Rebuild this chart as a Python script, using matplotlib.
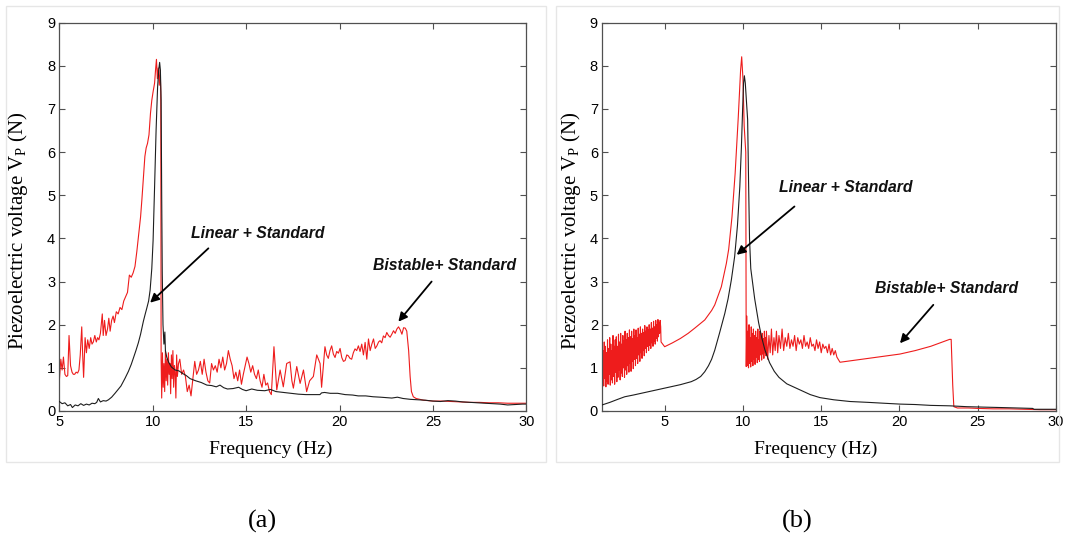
import matplotlib
matplotlib.use("Agg")
import matplotlib.pyplot as plt
from matplotlib.patches import Rectangle

plt.rcParams['font.family'] = ['Liberation Sans', 'DejaVu Sans']
plt.rcParams['mathtext.fontset'] = 'custom'
plt.rcParams['mathtext.rm'] = 'Liberation Serif'
plt.rcParams['mathtext.it'] = 'Liberation Serif:italic'

# ---------------- data: panel (a) ----------------
A_XTICKS = [5, 10, 15, 20, 25, 30]
Y_TICKS = [0, 1, 2, 3, 4, 5, 6, 7, 8, 9]

# linear harvester + standard circuit, (frequency Hz, voltage)
LINEAR_A = [
    (5.00, 0.22), (5.15, 0.17), (5.30, 0.19), (5.45, 0.12), (5.60, 0.15), (5.70, 0.08),
    (5.85, 0.14), (6.00, 0.12), (6.15, 0.17), (6.30, 0.13), (6.45, 0.16), (6.60, 0.14),
    (6.75, 0.18), (6.90, 0.17), (7.00, 0.20), (7.09, 0.29), (7.20, 0.21), (7.35, 0.24),
    (7.50, 0.23), (7.63, 0.26), (7.80, 0.32), (7.98, 0.41), (8.15, 0.50), (8.30, 0.58),
    (8.52, 0.76), (8.70, 0.92), (8.85, 1.08), (8.96, 1.22), (9.10, 1.40), (9.23, 1.58),
    (9.35, 1.78), (9.50, 2.08), (9.60, 2.25), (9.68, 2.38), (9.78, 2.55), (9.86, 2.80),
    (9.95, 3.30), (10.02, 3.95), (10.10, 5.20), (10.18, 6.50), (10.26, 7.50), (10.32, 7.90),
    (10.37, 8.08), (10.41, 7.90), (10.45, 7.20), (10.48, 5.00), (10.51, 3.20), (10.55, 2.00),
    (10.60, 1.55), (10.65, 1.83), (10.68, 1.40), (10.75, 1.25), (10.85, 1.13), (11.00, 1.02),
    (11.20, 0.95), (11.40, 0.93), (11.60, 0.87), (11.80, 0.82), (12.00, 0.75), (12.30, 0.70),
    (12.60, 0.66), (12.90, 0.60), (13.15, 0.59), (13.40, 0.56), (13.60, 0.60), (13.80, 0.54),
    (14.00, 0.51), (14.30, 0.52), (14.60, 0.55), (14.80, 0.50), (15.00, 0.47), (15.30, 0.51),
    (15.60, 0.48), (16.00, 0.47), (16.30, 0.50), (16.60, 0.45), (17.00, 0.43), (17.40, 0.41),
    (17.80, 0.39), (18.20, 0.38), (18.60, 0.38), (18.95, 0.38), (19.04, 0.42), (19.20, 0.43),
    (19.50, 0.41), (19.90, 0.41), (20.30, 0.38), (20.70, 0.37), (21.00, 0.35), (21.40, 0.35),
    (21.80, 0.33), (22.20, 0.32), (22.50, 0.31), (22.80, 0.30), (23.10, 0.32), (23.40, 0.29),
    (23.80, 0.27), (24.20, 0.26), (24.60, 0.25), (25.00, 0.23), (25.40, 0.22), (25.80, 0.24),
    (26.20, 0.23), (26.60, 0.21), (27.00, 0.20), (27.40, 0.19), (27.80, 0.18), (28.20, 0.17),
    (28.60, 0.16), (29.00, 0.14), (29.40, 0.15), (29.80, 0.16), (30.00, 0.16),
]

# bistable harvester + standard circuit
BISTABLE_A = [
    (5.00, 0.70), (5.08, 1.20), (5.15, 0.95), (5.22, 1.25), (5.30, 0.85), (5.38, 0.80),
    (5.45, 0.82), (5.52, 1.75), (5.60, 1.05), (5.68, 0.90), (5.75, 0.85), (5.82, 0.85),
    (5.90, 0.90), (5.98, 0.88), (6.05, 0.95), (6.12, 1.30), (6.20, 1.95), (6.25, 1.30),
    (6.30, 0.78), (6.38, 1.70), (6.45, 1.35), (6.52, 1.65), (6.60, 1.45), (6.68, 1.70),
    (6.75, 1.55), (6.82, 1.60), (6.90, 1.75), (6.98, 1.60), (7.05, 1.70), (7.12, 1.65),
    (7.20, 1.80), (7.30, 2.25), (7.35, 1.75), (7.42, 2.10), (7.50, 1.75), (7.58, 1.90),
    (7.65, 2.15), (7.72, 1.85), (7.80, 2.10), (7.88, 2.20), (7.95, 2.05), (8.05, 2.30),
    (8.15, 2.25), (8.25, 2.40), (8.35, 2.35), (8.45, 2.55), (8.55, 2.65), (8.65, 2.75),
    (8.75, 3.15), (8.85, 3.10), (8.95, 3.20), (9.05, 3.35), (9.15, 3.70), (9.25, 4.10),
    (9.35, 4.50), (9.42, 4.90), (9.50, 5.40), (9.58, 5.90), (9.65, 6.10), (9.72, 6.20),
    (9.80, 6.40), (9.88, 6.90), (9.95, 7.20), (10.02, 7.40), (10.10, 7.60), (10.15, 7.90),
    (10.20, 8.15), (10.25, 7.70), (10.30, 7.95), (10.35, 7.55), (10.40, 7.90), (10.43, 7.40),
    (10.45, 1.20), (10.48, 0.30), (10.52, 1.35), (10.56, 0.55), (10.60, 1.10), (10.64, 0.45),
    (10.68, 1.40), (10.72, 0.70), (10.76, 1.20), (10.80, 0.60), (10.84, 1.35), (10.88, 0.85),
    (10.92, 1.10), (10.96, 0.40), (11.00, 1.30), (11.04, 0.75), (11.08, 1.40), (11.12, 0.55),
    (11.16, 1.05), (11.20, 0.90), (11.24, 0.30), (11.28, 1.30), (11.32, 0.80), (11.38, 1.10),
    (11.45, 1.20), (11.55, 0.85), (11.65, 0.95), (11.75, 0.80), (11.85, 0.45), (11.95, 0.60),
    (12.05, 0.35), (12.15, 0.75), (12.25, 1.15), (12.35, 0.85), (12.45, 0.95), (12.55, 1.15),
    (12.65, 0.85), (12.75, 1.20), (12.85, 0.90), (12.95, 0.70), (13.05, 0.65), (13.15, 1.10),
    (13.25, 0.95), (13.35, 1.05), (13.45, 0.90), (13.55, 1.20), (13.65, 1.00), (13.75, 1.25),
    (13.85, 0.95), (13.95, 1.10), (14.05, 1.40), (14.15, 1.20), (14.25, 1.05), (14.35, 0.75),
    (14.45, 0.90), (14.55, 0.70), (14.65, 0.95), (14.75, 0.62), (14.85, 0.85), (14.95, 1.05),
    (15.05, 1.25), (15.15, 1.10), (15.25, 0.90), (15.35, 1.05), (15.45, 0.85), (15.55, 0.75),
    (15.65, 0.95), (15.75, 0.70), (15.85, 0.55), (15.95, 0.85), (16.05, 0.60), (16.15, 0.65),
    (16.25, 0.45), (16.35, 0.38), (16.49, 1.49), (16.64, 0.49), (16.82, 0.95), (16.99, 0.56),
    (17.17, 1.10), (17.35, 1.14), (17.45, 0.70), (17.53, 0.53), (17.71, 1.03), (17.89, 0.64),
    (18.07, 0.95), (18.24, 0.45), (18.40, 0.70), (18.60, 0.80), (18.78, 1.30), (18.96, 1.10),
    (19.04, 0.55), (19.22, 1.49), (19.31, 1.30), (19.40, 1.22), (19.49, 1.40), (19.58, 1.51),
    (19.67, 1.32), (19.76, 1.24), (19.85, 1.38), (19.94, 1.34), (20.03, 1.45), (20.12, 1.24),
    (20.21, 1.15), (20.30, 1.17), (20.39, 1.30), (20.47, 1.28), (20.56, 1.22), (20.65, 1.20),
    (20.74, 1.35), (20.83, 1.44), (20.92, 1.40), (21.01, 1.51), (21.10, 1.38), (21.19, 1.55),
    (21.28, 1.30), (21.37, 1.59), (21.46, 1.20), (21.55, 1.67), (21.64, 1.40), (21.73, 1.55),
    (21.82, 1.67), (21.91, 1.45), (22.00, 1.51), (22.09, 1.60), (22.17, 1.63), (22.26, 1.58),
    (22.35, 1.74), (22.44, 1.70), (22.53, 1.82), (22.62, 1.75), (22.71, 1.71), (22.80, 1.78),
    (22.89, 1.86), (22.98, 1.80), (23.07, 1.90), (23.16, 1.95), (23.25, 1.88), (23.34, 1.78),
    (23.43, 1.93), (23.52, 1.92), (23.60, 1.85), (23.70, 1.40), (23.78, 0.80), (23.85, 0.45),
    (23.95, 0.33), (24.10, 0.29), (24.50, 0.25), (25.00, 0.23), (25.50, 0.23), (26.00, 0.22),
    (26.50, 0.21), (27.00, 0.20), (27.50, 0.20), (28.00, 0.19), (28.50, 0.19), (29.00, 0.18),
    (29.50, 0.18), (30.00, 0.18),
]

# ---------------- data: panel (b) ----------------
B_XTICKS = [5, 10, 15, 20, 25, 30]

LINEAR_B = [
    (1.00, 0.14), (1.50, 0.20), (2.00, 0.27), (2.45, 0.33), (3.00, 0.37), (3.50, 0.41),
    (4.00, 0.45), (4.50, 0.49), (5.00, 0.53), (5.50, 0.57), (6.00, 0.61), (6.70, 0.68),
    (7.00, 0.73), (7.30, 0.80), (7.56, 0.91), (7.80, 1.05), (8.00, 1.20), (8.20, 1.41),
    (8.50, 1.80), (8.84, 2.26), (9.05, 2.60), (9.26, 3.04), (9.47, 3.58), (9.65, 4.30),
    (9.80, 5.20), (9.90, 6.10), (9.98, 7.00), (10.04, 7.60), (10.09, 7.77), (10.15, 7.60),
    (10.22, 7.20), (10.30, 6.75), (10.36, 5.30), (10.42, 4.00), (10.50, 3.30), (10.75, 2.60),
    (11.00, 2.05), (11.20, 1.70), (11.40, 1.42), (11.70, 1.12), (12.00, 0.92), (12.30, 0.78),
    (12.80, 0.63), (13.64, 0.49), (14.30, 0.38), (14.92, 0.31), (15.80, 0.26), (16.84, 0.22),
    (18.00, 0.20), (19.00, 0.18), (20.03, 0.16), (21.00, 0.15), (22.00, 0.13), (23.20, 0.12),
    (24.30, 0.10), (25.35, 0.09), (26.50, 0.08), (27.50, 0.07), (28.50, 0.06), (28.60, 0.04),
    (30.00, 0.04),
]

BISTABLE_B = [
    # chaotic band below 4.8 Hz
    (1.000, 1.55), (1.035, 0.60), (1.070, 1.40), (1.105, 0.58), (1.140, 1.60), (1.175, 0.75),
    (1.210, 1.50), (1.245, 0.56), (1.280, 1.35), (1.315, 0.70), (1.350, 1.65), (1.385, 0.62),
    (1.420, 1.45), (1.455, 0.85), (1.490, 1.70), (1.525, 0.60), (1.560, 1.55), (1.595, 0.72),
    (1.630, 1.40), (1.665, 0.65), (1.700, 1.75), (1.735, 0.80), (1.770, 1.50), (1.805, 0.62),
    (1.840, 1.65), (1.875, 0.90), (1.910, 1.72), (1.945, 0.68), (1.980, 1.50), (2.015, 0.78),
    (2.050, 1.78), (2.085, 0.95), (2.120, 1.60), (2.155, 0.72), (2.190, 1.80), (2.225, 0.88),
    (2.260, 1.55), (2.295, 0.80), (2.330, 1.75), (2.365, 1.00), (2.400, 1.62), (2.435, 0.78),
    (2.470, 1.85), (2.505, 0.95), (2.540, 1.65), (2.575, 0.85), (2.610, 1.80), (2.645, 1.05),
    (2.680, 1.70), (2.715, 0.90), (2.750, 1.88), (2.785, 1.10), (2.820, 1.72), (2.855, 0.92),
    (2.890, 1.85), (2.925, 1.15), (2.960, 1.68), (2.995, 0.98), (3.030, 1.90), (3.065, 1.20),
    (3.100, 1.75), (3.135, 1.05), (3.170, 1.88), (3.205, 1.22), (3.240, 1.70), (3.275, 1.10),
    (3.310, 1.92), (3.345, 1.30), (3.380, 1.78), (3.415, 1.15), (3.450, 1.95), (3.485, 1.35),
    (3.520, 1.80), (3.555, 1.22), (3.590, 1.90), (3.625, 1.40), (3.660, 1.82), (3.695, 1.28),
    (3.730, 1.98), (3.765, 1.45), (3.800, 1.85), (3.835, 1.35), (3.870, 1.95), (3.905, 1.50),
    (3.940, 1.88), (3.975, 1.40), (4.010, 2.00), (4.045, 1.52), (4.080, 1.90), (4.115, 1.45),
    (4.150, 2.05), (4.185, 1.58), (4.220, 1.92), (4.255, 1.50), (4.290, 2.08), (4.325, 1.62),
    (4.360, 1.95), (4.395, 1.55), (4.430, 2.10), (4.465, 1.68), (4.500, 2.00), (4.535, 1.62),
    (4.570, 2.12), (4.605, 1.72), (4.640, 2.05), (4.675, 1.80), (4.710, 2.10), (4.745, 1.95),
    (4.770, 1.60),
    # high-energy branch up to the peak
    (5.00, 1.49), (5.50, 1.58), (6.00, 1.68), (6.50, 1.80), (6.92, 1.92), (7.56, 2.11),
    (8.00, 2.33), (8.20, 2.46), (8.62, 2.88), (8.94, 3.42), (9.09, 3.75), (9.30, 4.50),
    (9.50, 5.50), (9.70, 6.80), (9.85, 7.90), (9.92, 8.21), (10.00, 7.70), (10.08, 6.60),
    (10.18, 6.00), (10.21, 1.03),
    # chaotic band 10.2 - 16 Hz
    (10.250, 2.20), (10.285, 1.05), (10.320, 1.85), (10.355, 1.00), (10.390, 2.00),
    (10.425, 1.10), (10.460, 1.70), (10.495, 1.02), (10.530, 1.95), (10.565, 1.15),
    (10.600, 1.80), (10.635, 1.05), (10.670, 1.90), (10.705, 1.20), (10.740, 1.75),
    (10.775, 1.08), (10.810, 1.85), (10.845, 1.25), (10.880, 1.70), (10.915, 1.12),
    (10.950, 1.90), (10.985, 1.20), (11.020, 1.65), (11.055, 1.15), (11.090, 1.85),
    (11.125, 1.30), (11.160, 1.72), (11.195, 1.18), (11.230, 1.80), (11.265, 1.32),
    (11.300, 1.68), (11.335, 1.22), (11.370, 1.85), (11.405, 1.35), (11.440, 1.70),
    (11.475, 1.28),
    (11.50, 1.85), (11.58, 1.20), (11.66, 1.75), (11.74, 1.35), (11.82, 1.90), (11.90, 1.30),
    (11.98, 1.70), (12.06, 1.40), (12.14, 1.85), (12.22, 1.35), (12.30, 1.75), (12.40, 1.45),
    (12.50, 1.90), (12.60, 1.40), (12.70, 1.70), (12.80, 1.50), (12.90, 1.80), (13.00, 1.45),
    (13.10, 1.65), (13.20, 1.50), (13.30, 1.75), (13.40, 1.40), (13.50, 1.70), (13.60, 1.55),
    (13.70, 1.65), (13.80, 1.45), (13.90, 1.75), (14.00, 1.50), (14.10, 1.60), (14.20, 1.45),
    (14.30, 1.70), (14.40, 1.50), (14.50, 1.55), (14.60, 1.40), (14.70, 1.65), (14.80, 1.45),
    (14.90, 1.60), (15.00, 1.35), (15.10, 1.55), (15.20, 1.45), (15.30, 1.50), (15.40, 1.35),
    (15.50, 1.55), (15.60, 1.30), (15.70, 1.45), (15.80, 1.30), (15.90, 1.40), (16.00, 1.25),
    # smooth high branch and jump down
    (16.20, 1.13), (17.00, 1.17), (18.00, 1.22), (19.00, 1.27), (20.03, 1.32), (21.00, 1.40),
    (22.00, 1.50), (23.20, 1.66), (23.30, 1.66), (23.40, 0.60), (23.47, 0.10), (23.70, 0.07),
    (24.40, 0.07), (25.00, 0.06), (26.00, 0.05), (27.00, 0.05), (28.00, 0.04), (29.00, 0.03),
    (30.00, 0.03),
]

# annotation texts: (label, text-left x, text y, arrow tail, arrow head)
NOTES_A = [
    ("Linear + Standard", 12.05, 4.12, (12.98, 3.77), (9.86, 2.51)),
    ("Bistable+ Standard", 21.81, 3.38, (24.93, 3.00), (23.15, 2.07)),
]
NOTES_B = [
    ("Linear + Standard", 12.30, 5.19, (13.29, 4.74), (9.60, 3.62)),
    ("Bistable+ Standard", 18.43, 2.84, (22.16, 2.46), (20.03, 1.57)),
]

RED = '#ee1c1c'
BLACK = '#1e1e1e'
SPINE = '#505050'
SERIF = ['Liberation Serif', 'DejaVu Serif']

fig = plt.figure(figsize=(10.65, 5.48), dpi=100)

# light frames around the two panels
for x0, x1 in [(6, 546), (556, 1059)]:
    fig.patches.append(Rectangle((x0 / 1065, 1 - 462 / 548), (x1 - x0) / 1065, (462 - 6) / 548,
                                 transform=fig.transFigure, fill=False,
                                 edgecolor='#e6e6e6', linewidth=1.0))

ax_a = fig.add_axes([0.0557, 0.25, 0.4385, 0.7086])
ax_b = fig.add_axes([0.5653, 0.25, 0.4263, 0.7086])


def draw(ax, linear, bistable, xlim, xticks, notes, xlab_x, ylab_x):
    bx, by = zip(*bistable)
    lx, ly = zip(*linear)
    ax.plot(bx, by, color=RED, lw=0.8, zorder=2)
    ax.plot(lx, ly, color=BLACK, lw=0.8, zorder=3)
    ax.set_xlim(*xlim)
    ax.set_ylim(0, 9)
    ax.set_xticks(xticks)
    ax.set_yticks(Y_TICKS)
    ax.tick_params(direction='in', top=True, right=True, length=4, width=0.8,
                   color=SPINE, labelsize=10.5, pad=3)
    for s in ax.spines.values():
        s.set_color(SPINE)
        s.set_linewidth(0.9)
    ax.set_xlabel('Frequency (Hz)', family=SERIF, fontsize=14)
    ax.xaxis.label.set_va('center')
    ax.xaxis.set_label_coords(xlab_x, -0.1)
    ax.set_ylabel(r'Piezoelectric voltage V$_{\mathrm{P}}$ (N)', family=SERIF, fontsize=15)
    ax.yaxis.label.set_va('center')
    ax.yaxis.set_label_coords(ylab_x, 0.465)
    for text, tx, ty, tail, head in notes:
        ax.text(tx, ty, text, fontsize=11.3, fontweight='bold', style='italic',
                ha='left', va='center', color='#111111')
        ax.annotate('', xy=head, xytext=tail,
                    arrowprops=dict(arrowstyle='-|>', color='black', lw=1.3,
                                    mutation_scale=13, shrinkA=0, shrinkB=0))


draw(ax_a, LINEAR_A, BISTABLE_A, (5, 30), A_XTICKS, NOTES_A, 0.453, -0.088)
draw(ax_b, LINEAR_B, BISTABLE_B, (1, 30), B_XTICKS, NOTES_B, 0.471, -0.068)

fig.text(262 / 1065, 1 - 521 / 548, '(a)', family=SERIF, fontsize=19, ha='center', va='center')
fig.text(797 / 1065, 1 - 521 / 548, '(b)', family=SERIF, fontsize=19, ha='center', va='center')

fig.savefig('out.png', dpi=100, facecolor='white')
